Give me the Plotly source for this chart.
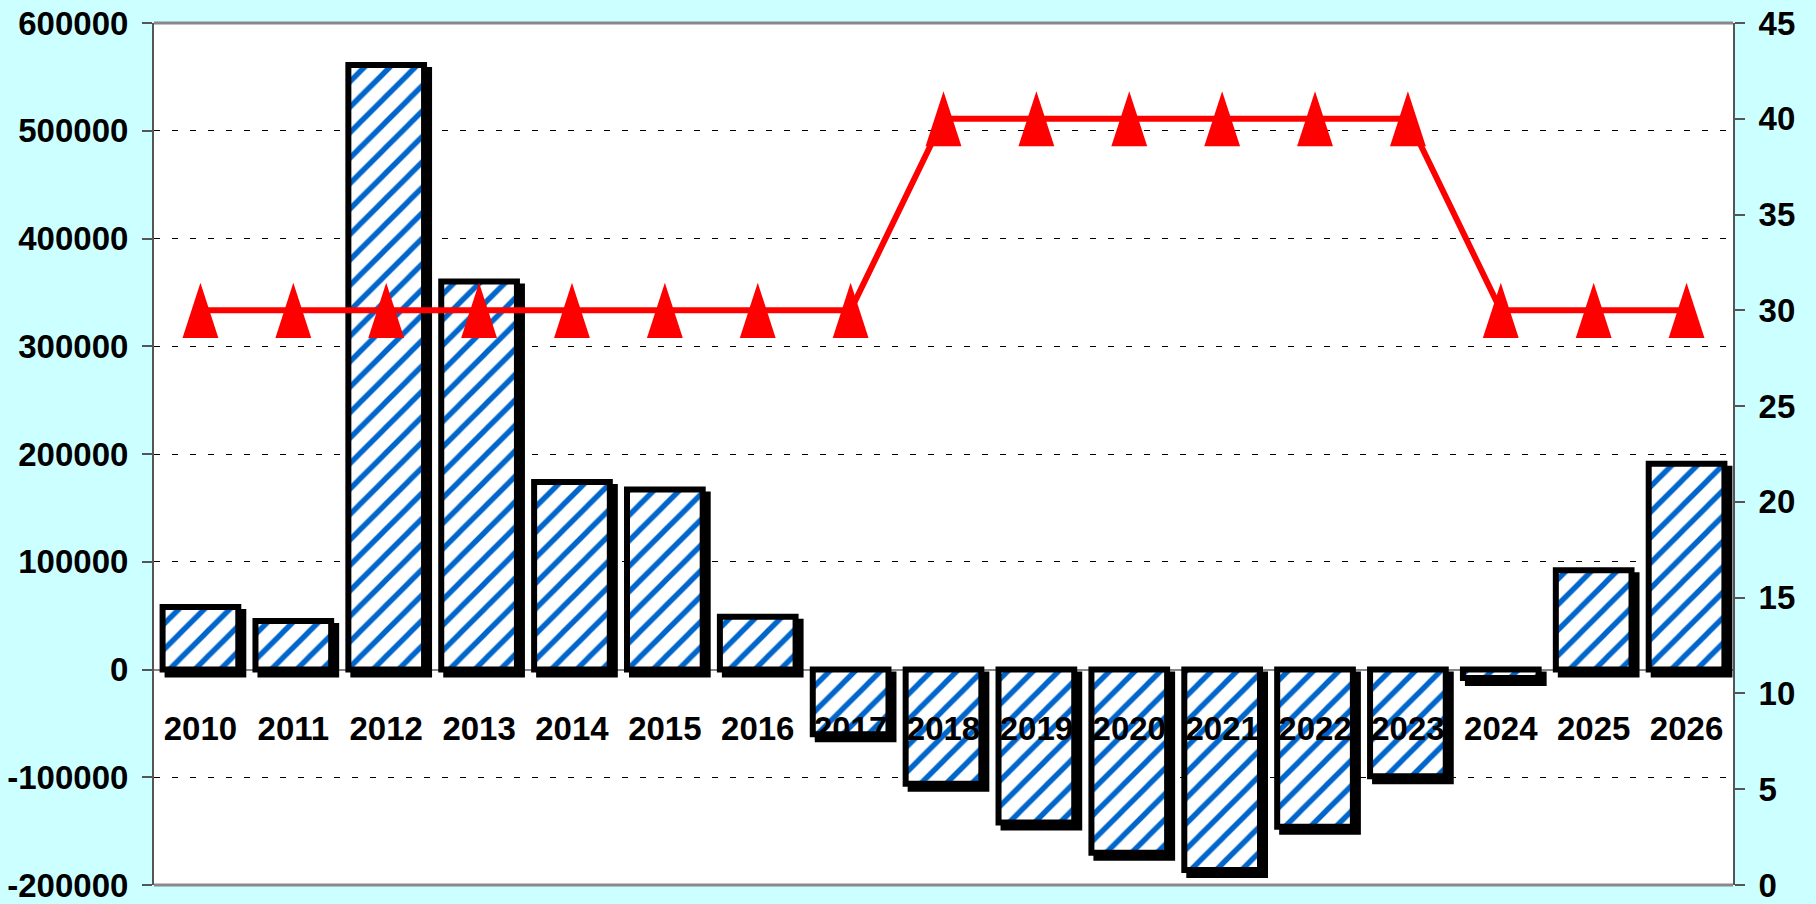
import plotly.graph_objects as go

years = ["2010", "2011", "2012", "2013", "2014", "2015", "2016", "2017", "2018",
         "2019", "2020", "2021", "2022", "2023", "2024", "2025", "2026"]
balance = [58000, 45000, 561000, 360000, 174000, 167000, 49000, -60000, -106000,
           -142000, -170000, -186000, -146000, -99000, -8000, 92000, 191000]
rate = [30, 30, 30, 30, 30, 30, 30, 30, 40, 40, 40, 40, 40, 40, 30, 30, 30]

left_ticks = [-200000, -100000, 0, 100000, 200000, 300000, 400000, 500000, 600000]
right_ticks = [0, 5, 10, 15, 20, 25, 30, 35, 40, 45]

W, H = 1816, 904
M_L, M_R, M_T, M_B = 154, 83, 23, 19
plot_w = W - M_L - M_R
plot_h = H - M_T - M_B
y_rng = [-200000, 600000]
y2_rng = [0, 45]
n = len(years)
cat_px = plot_w / n
bar_w = 0.815
shadow_px = 5
dx = shadow_px / cat_px
dy = shadow_px * (y_rng[1] - y_rng[0]) / plot_h

marker_size = 58
arrow_h = 0.951 * marker_size
shift = (arrow_h / 2) * (y2_rng[1] - y2_rng[0]) / plot_h

FONT = "Liberation Sans, Arial, sans-serif"
tick_font = dict(family=FONT, size=33, color="black", weight="bold")
AX = "#555555"

fig = go.Figure()

# shadow bars
fig.add_trace(go.Bar(
    x=years, y=balance, base=[-dy] * n, yaxis="y",
    width=bar_w, offset=-bar_w / 2 + dx,
    marker=dict(color="black", line=dict(color="black", width=6)),
    showlegend=False, hoverinfo="skip",
))
# main bars
fig.add_trace(go.Bar(
    x=years, y=balance, yaxis="y",
    width=bar_w, offset=-bar_w / 2,
    marker=dict(color="white", line=dict(color="black", width=6),
                pattern=dict(shape="/", fgcolor="#0066CC", bgcolor="white",
                             size=18, solidity=0.3, fillmode="replace")),
    showlegend=False,
))
# red line
fig.add_trace(go.Scatter(
    x=years, y=rate, yaxis="y3", mode="lines",
    line=dict(color="#FF0000", width=6), showlegend=False,
))
# triangle markers
fig.add_trace(go.Scatter(
    x=years, y=rate, yaxis="y5", mode="markers",
    marker=dict(symbol="arrow", angle=0, size=marker_size, color="#FF0000"),
    showlegend=False,
))

fig.update_layout(
    width=W, height=H,
    margin=dict(l=M_L, r=M_R, t=M_T, b=M_B, autoexpand=False),
    paper_bgcolor="#CCFFFF", plot_bgcolor="white",
    barmode="overlay",
    showlegend=False,
    xaxis=dict(
        type="category", range=[-0.5, n - 0.5],
        anchor="free", position=0.25,
        showline=False, ticks="", showgrid=False, zeroline=False,
        tickfont=tick_font, ticklabelstandoff=36, automargin=False,
    ),
    yaxis=dict(
        range=y_rng, tickvals=left_ticks, ticktext=[str(v) for v in left_ticks],
        showline=True, linecolor=AX, linewidth=2,
        ticks="outside", ticklen=10, tickwidth=2, tickcolor=AX,
        showgrid=True, gridcolor="black", gridwidth=1, griddash="6px,12px",
        zeroline=True, zerolinecolor="#888888", zerolinewidth=2,
        tickfont=tick_font, ticklabelstandoff=7, automargin=False,
    ),
    yaxis2=dict(
        range=y_rng, overlaying="y", side="left", tickvals=left_ticks,
        showticklabels=False, ticks="inside", ticklen=10, tickwidth=2,
        tickcolor=AX, showgrid=False, zeroline=False, showline=False,
        automargin=False,
    ),
    yaxis3=dict(
        range=y2_rng, overlaying="y", side="right", tickvals=right_ticks,
        showline=True, linecolor=AX, linewidth=2,
        ticks="outside", ticklen=10, tickwidth=2, tickcolor=AX,
        showgrid=False, zeroline=False,
        tickfont=tick_font, ticklabelstandoff=7, automargin=False,
    ),
    yaxis4=dict(
        range=y2_rng, overlaying="y", side="right", tickvals=right_ticks,
        showticklabels=False, ticks="inside", ticklen=10, tickwidth=2,
        tickcolor=AX, showgrid=False, zeroline=False, showline=False,
        automargin=False,
    ),
    yaxis5=dict(
        range=[y2_rng[0] - shift, y2_rng[1] - shift], overlaying="y", side="right",
        visible=False, showgrid=False, zeroline=False,
    ),
    shapes=[
        dict(type="line", xref="paper", yref="paper", x0=0, x1=1, y0=1, y1=1,
             line=dict(color="#888888", width=3), layer="above"),
        dict(type="line", xref="paper", yref="paper", x0=0, x1=1, y0=0, y1=0,
             line=dict(color="#888888", width=3), layer="above"),
    ],
)

fig.write_html(
    "out.html",
    config={"displayModeBar": False},
    post_script="document.body.style.margin='0';document.body.style.overflow='hidden';"
                "document.body.style.background='#CCFFFF';",
)
